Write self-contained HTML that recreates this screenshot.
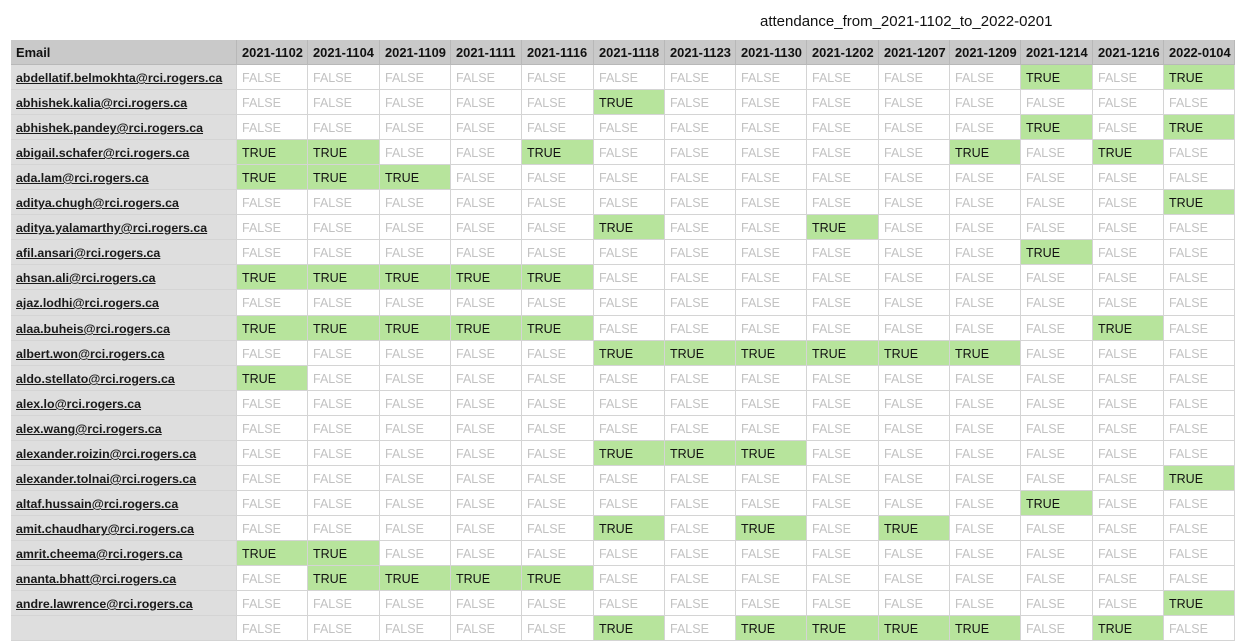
<!DOCTYPE html>
<html><head><meta charset="utf-8">
<style>
html,body{margin:0;padding:0;background:#fff;width:1236px;height:622px;overflow:hidden;font-family:"Liberation Sans",Arial,sans-serif;}
#title{position:absolute;left:760px;top:13px;font-size:15px;color:#111;}
.c{position:absolute;box-sizing:border-box;border-right:1px solid #d4d4d4;border-bottom:1px solid #d4d4d4;font-size:12.5px;line-height:26px;padding-left:5px;white-space:nowrap;overflow:hidden;}
.h{background:#c9c9c9;font-weight:bold;color:#111;border-color:#b8b8b8;font-size:12.9px;line-height:25px;}
.e{background:#dedede;font-weight:bold;color:#1a1a1a;text-decoration:underline;font-size:12.4px;}
.t{background:#b7e49c;color:#111;}
.f{color:#c2c2c2;background:#fff;}
</style></head><body>
<div id="title">attendance_from_2021-1102_to_2022-0201</div>
<div id="grid"></div>
<script>
const dates=["2021-1102","2021-1104","2021-1109","2021-1111","2021-1116","2021-1118","2021-1123","2021-1130","2021-1202","2021-1207","2021-1209","2021-1214","2021-1216","2022-0104"];
const emails=["abdellatif.belmokhta@rci.rogers.ca","abhishek.kalia@rci.rogers.ca","abhishek.pandey@rci.rogers.ca","abigail.schafer@rci.rogers.ca","ada.lam@rci.rogers.ca","aditya.chugh@rci.rogers.ca","aditya.yalamarthy@rci.rogers.ca","afil.ansari@rci.rogers.ca","ahsan.ali@rci.rogers.ca","ajaz.lodhi@rci.rogers.ca","alaa.buheis@rci.rogers.ca","albert.won@rci.rogers.ca","aldo.stellato@rci.rogers.ca","alex.lo@rci.rogers.ca","alex.wang@rci.rogers.ca","alexander.roizin@rci.rogers.ca","alexander.tolnai@rci.rogers.ca","altaf.hussain@rci.rogers.ca","amit.chaudhary@rci.rogers.ca","amrit.cheema@rci.rogers.ca","ananta.bhatt@rci.rogers.ca","andre.lawrence@rci.rogers.ca",""];
const present=[[11,13],[5],[11,13],[0,1,4,10,12],[0,1,2],[13],[5,8],[11],[0,1,2,3,4],[],[0,1,2,3,4,12],[5,6,7,8,9,10],[0],[],[],[5,6,7],[13],[11],[5,7,9],[0,1],[1,2,3,4],[13],[5,7,8,9,10,12]];
const grid=document.getElementById('grid');
const X0=11,EW=226,CW=71.3,Y0=40,HH=25,RH=25.05;
function cell(x,y,w,h,cls,txt){const d=document.createElement('div');d.className='c '+cls;d.style.left=x+'px';d.style.top=y+'px';d.style.width=w+'px';d.style.height=h+'px';d.textContent=txt;grid.appendChild(d);return d;}
let hd=cell(X0,Y0,EW,HH,'h','Email');


dates.forEach((d,j)=>{const el=cell(Math.round(X0+EW+j*CW),Y0,Math.round(X0+EW+(j+1)*CW)-Math.round(X0+EW+j*CW),HH,'h',d);

});
emails.forEach((em,i)=>{const y=Math.round(Y0+HH+i*RH),h=Math.round(Y0+HH+(i+1)*RH)-y;
const e=cell(X0,y,EW,h,'e',em);


dates.forEach((d,j)=>{const on=present[i].includes(j);const x=Math.round(X0+EW+j*CW);
const c=cell(x,y,Math.round(X0+EW+(j+1)*CW)-x,h,on?'t':'f',on?'TRUE':'FALSE');

});});
</script>
</body></html>
